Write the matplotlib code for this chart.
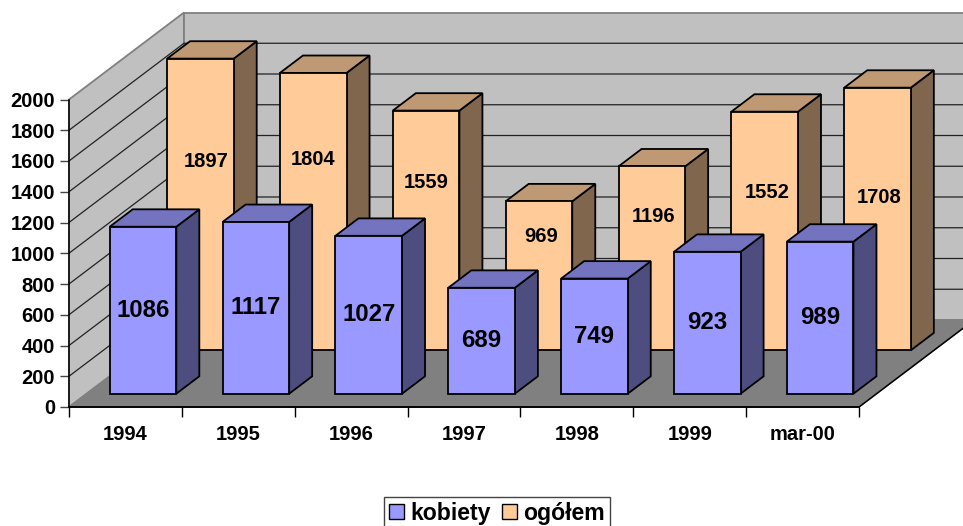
import matplotlib
matplotlib.use("Agg")
import matplotlib.pyplot as plt
from matplotlib.patches import Patch, Polygon

plt.rcParams['font.family'] = ['Liberation Sans', 'DejaVu Sans']
plt.rcParams['font.weight'] = 'bold'

categories = ['1994', '1995', '1996', '1997', '1998', '1999', 'mar-00']
kobiety = [1086, 1117, 1027, 689, 749, 923, 989]
ogolem = [1897, 1804, 1559, 969, 1196, 1552, 1708]
y_ticks = list(range(0, 2001, 200))

# label nudges in pixels, excel put the back labels well above the bar centre
ogolem_label_dx = [6, 0, 0, 2, 2, 2, 2]
ogolem_label_dy = [43, 52, 48, 39, 42, 38, 21]

W, H = 963, 526
X0, X1 = 69, 859
Y0, Y2000 = 407, 99.5

# how far one full unit of depth moves a point, in data units
DX = 115 / ((X1 - X0) / 7)
DY = 87 / ((Y0 - Y2000) / 2000)
BAR_W = 0.59


def pt(x, v, z):
    return (x + DX * z, v + DY * z)


def poly(ax, pts, color, edge='black', lw=1.3, zorder=1):
    ax.add_patch(Polygon(pts, closed=True, facecolor=color, edgecolor=edge,
                         linewidth=lw, zorder=zorder, clip_on=False,
                         joinstyle='miter'))


def bar3d(ax, i, val, z0, z1, face, side, top, zorder):
    x0 = i + (1 - BAR_W) / 2
    x1 = x0 + BAR_W
    poly(ax, [pt(x1, 0, z0), pt(x1, 0, z1), pt(x1, val, z1), pt(x1, val, z0)], side, zorder=zorder)
    poly(ax, [pt(x0, val, z0), pt(x1, val, z0), pt(x1, val, z1), pt(x0, val, z1)], top, zorder=zorder)
    poly(ax, [pt(x0, 0, z0), pt(x1, 0, z0), pt(x1, val, z0), pt(x0, val, z0)], face, zorder=zorder)


fig = plt.figure(figsize=(W / 100, H / 100), dpi=100)
ax = fig.add_axes([X0 / W, 1 - Y0 / H, (X1 - X0) / W, (Y0 - Y2000) / H])
ax.set_xlim(0, 7)
ax.set_ylim(0, 2000)
ax.patch.set_visible(False)

# walls and floor
poly(ax, [pt(0, 0, 0), pt(0, 2000, 0), pt(0, 2000, 1), pt(0, 0, 1)], '#C0C0C0', edge='#808080', lw=1.3)
poly(ax, [pt(0, 0, 1), pt(0, 2000, 1), pt(7, 2000, 1), pt(7, 0, 1)], '#C0C0C0', edge='#808080', lw=1.3)
poly(ax, [pt(0, 0, 0), pt(7, 0, 0), pt(7, 0, 1), pt(0, 0, 1)], '#808080', edge='#808080', lw=1.0)
p = [pt(0, 0, 0), pt(7, 0, 0), pt(7, 0, 1)]
ax.plot([a[0] for a in p], [a[1] for a in p], color='black', lw=1.1, clip_on=False, zorder=2)

for v in y_ticks[1:-1]:
    p = [pt(0, v, 0), pt(0, v, 1), pt(7, v, 1)]
    ax.plot([a[0] for a in p], [a[1] for a in p], color='#222222', lw=0.9, clip_on=False, zorder=2)

for i in range(len(categories)):
    bar3d(ax, i, ogolem[i], 0.652, 0.852, '#FFCC99', '#80664D', '#BF9973', 3 + i * 0.01)
    cx, cy = pt(i + 0.5, ogolem[i] / 2, 0.652)
    ax.annotate(str(ogolem[i]), (cx, cy), xytext=(ogolem_label_dx[i], ogolem_label_dy[i]),
                textcoords='offset pixels', ha='center', va='center',
                fontsize=14.5, color='black', zorder=4, annotation_clip=False)

for i in range(len(categories)):
    bar3d(ax, i, kobiety[i], 0.153, 0.353, '#9999FF', '#4D4D80', '#7373BF', 5 + i * 0.01)
    cx, cy = pt(i + 0.5, kobiety[i] / 2, 0.153)
    ax.annotate(str(kobiety[i]), (cx, cy), xytext=(0, 0),
                textcoords='offset pixels', ha='center', va='center',
                fontsize=17.3, color='black', zorder=6, annotation_clip=False)

# axes
for s in ['top', 'right']:
    ax.spines[s].set_visible(False)
for s in ['left', 'bottom']:
    ax.spines[s].set_linewidth(1.1)
    ax.spines[s].set_zorder(2.5)
ax.set_yticks(y_ticks)
ax.tick_params(axis='y', length=6.5, width=1.0, color='#444444', pad=3.5, labelsize=14.5)
ax.set_xticks(range(8))
ax.set_xticklabels([])
ax.set_xticks([i + 0.5 for i in range(7)], labels=categories, minor=True)
ax.tick_params(axis='x', which='major', length=7, width=1.0)
ax.tick_params(axis='x', which='minor', length=0, pad=13, labelsize=14.5)

handles = [Patch(facecolor='#9999FF', edgecolor='black', linewidth=1.0, label='kobiety'),
           Patch(facecolor='#FFCC99', edgecolor='black', linewidth=1.0, label='ogółem')]
fig.legend(handles=handles, loc='upper left', bbox_to_anchor=(384 / W, 1 - 496.5 / H),
           ncol=2, fontsize=16.6, frameon=True, fancybox=False, edgecolor='#444444',
           framealpha=1, borderaxespad=0, borderpad=0.22, handlelength=0.65, handleheight=0.65,
           handletextpad=0.26, columnspacing=0.52)

fig.savefig('out.png', dpi=100)
